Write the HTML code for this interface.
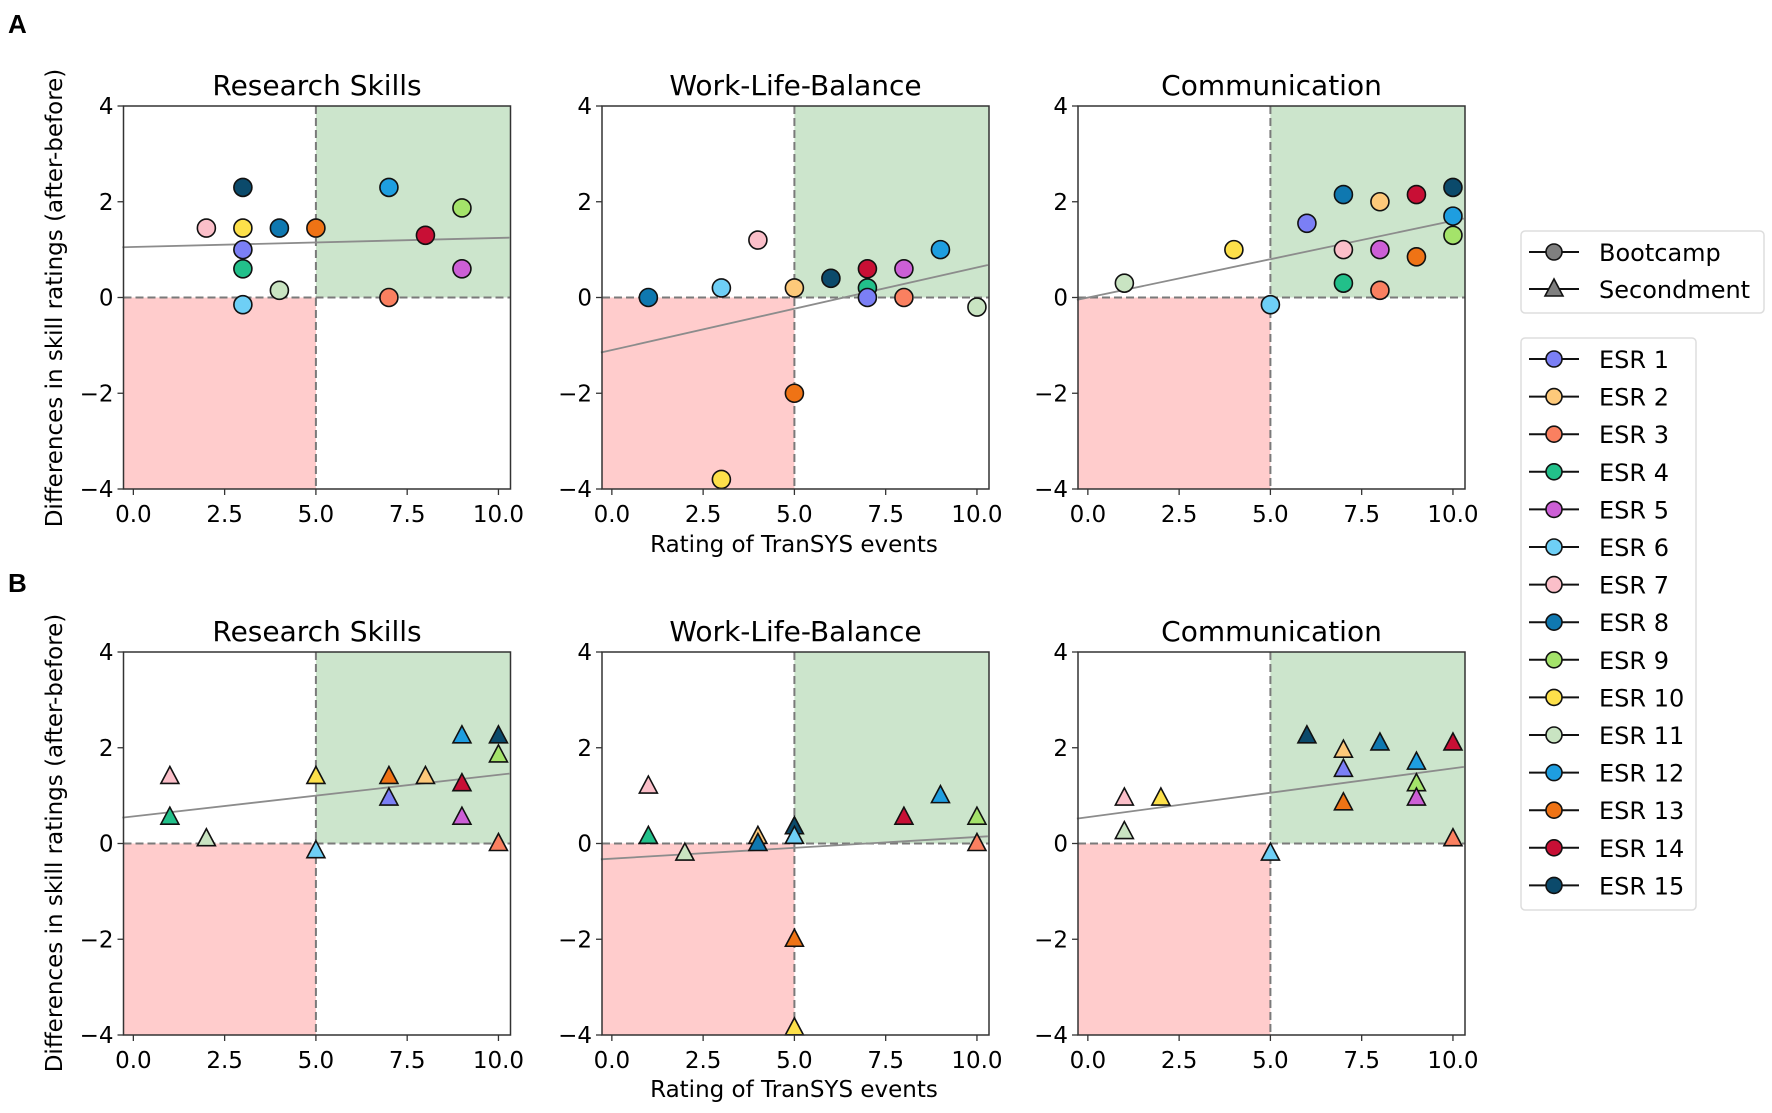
<!DOCTYPE html>
<html><head><meta charset="utf-8">
<style>
html,body{margin:0;padding:0;background:#fff;}
svg{display:block;font-family:"DejaVu Sans","Liberation Sans",sans-serif;}
</style></head>
<body>
<svg id="fig" width="1772" height="1113" viewBox="0 0 1772 1113" xmlns="http://www.w3.org/2000/svg">
<text x="8" y="33" font-size="26" font-weight="bold" font-family="Liberation Sans, sans-serif">A</text>
<text x="8" y="592" font-size="26" font-weight="bold" font-family="Liberation Sans, sans-serif">B</text>
<text transform="translate(62,298) rotate(-90)" text-anchor="middle" font-size="23">Differences in skill ratings (after-before)</text>
<text transform="translate(62,843) rotate(-90)" text-anchor="middle" font-size="23">Differences in skill ratings (after-before)</text>
<text x="794" y="552" text-anchor="middle" font-size="23">Rating of TranSYS events</text>
<text x="794" y="1097" text-anchor="middle" font-size="23">Rating of TranSYS events</text>
</svg>
<script>
const esrColors = ['#7b7ff5','#fdc97a','#fa8060','#22c08a','#cc5fd6','#6ecff6','#fbbfc9','#0f78b0','#a4e36a','#fde04a','#c9e4c2','#1e9ee0','#ef7315','#c80f35','#0b4a6b'];
const panelTitles = ['Research Skills','Work-Life-Balance','Communication'];
const xTicks = [0,2.5,5,7.5,10];
const xTickLabels = ['0.0','2.5','5.0','7.5','10.0'];
const yTicks = [4,2,0,-2,-4];
const yTickLabels = ['4','2','0','\u22122','\u22124'];
// Bootcamp (row A): ESR ids, ratings, differences
const a1Esr = [15,12,9,7,10,8,13,14,1,4,5,11,6,3];
const a1X   = [3,7,9,2,3,4,5,8,3,3,9,4,3,7];
const a1Y   = [2.3,2.3,1.87,1.45,1.45,1.45,1.45,1.3,1.0,0.6,0.6,0.15,-0.15,0.0];
const a2Esr = [8,6,7,2,13,10,15,14,4,1,5,3,12,11];
const a2X   = [1,3,4,5,5,3,6,7,7,7,8,8,9,10];
const a2Y   = [0,0.2,1.2,0.2,-2.0,-3.8,0.4,0.6,0.2,0.0,0.6,0.0,1.0,-0.2];
const a3Esr = [11,10,6,1,8,7,4,2,5,3,14,13,15,12,9];
const a3X   = [1,4,5,6,7,7,7,8,8,8,9,9,10,10,10];
const a3Y   = [0.3,1.0,-0.15,1.55,2.15,1.0,0.3,2.0,1.0,0.15,2.15,0.85,2.3,1.7,1.3];
// Secondment (row B)
const b1Esr = [7,4,11,10,6,13,1,2,12,14,5,15,9,3];
const b1X   = [1,1,2,5,5,7,7,8,9,9,9,10,10,10];
const b1Y   = [1.4,0.55,0.1,1.4,-0.15,1.4,0.95,1.4,2.25,1.25,0.55,2.25,1.85,0.0];
const b2Esr = [7,4,11,2,8,15,6,13,10,14,12,9,3];
const b2X   = [1,1,2,4,4,5,5,5,5,8,9,10,10];
const b2Y   = [1.2,0.15,-0.2,0.15,0.0,0.35,0.15,-2.0,-3.85,0.55,1.0,0.55,0.0];
const b3Esr = [7,11,10,6,15,2,1,13,8,12,9,5,14,3];
const b3X   = [1,1,2,5,6,7,7,7,8,9,9,9,10,10];
const b3Y   = [0.95,0.25,0.95,-0.2,2.25,1.95,1.55,0.85,2.1,1.7,1.25,0.95,2.1,0.1];
// trend lines: [value at x=-0.3, value at x=10.3]
const fitA = [[1.05,1.25],[-1.15,0.68],[-0.05,1.65]];
const fitB = [[0.54,1.46],[-0.33,0.15],[0.52,1.6]];

const NS='http://www.w3.org/2000/svg';
const svg=document.getElementById('fig');
function mk(tag,attrs,parent){const e=document.createElementNS(NS,tag);for(const k in attrs)e.setAttribute(k,attrs[k]);(parent||svg).appendChild(e);return e;}

const panelLefts=[123.5,602,1078];
const PW=387;
const rowTops=[106,652];
const PH=383;
const XMIN=-0.27, XMAX=10.33;

function drawPanel(row,col,esr,xs,ys,fit,tri){
  const L=panelLefts[col], T=rowTops[row];
  const sx=v=>L+(v-XMIN)/(XMAX-XMIN)*PW;
  const sy=v=>T+(4-v)/8*PH;
  const g=mk('g',{});
  
  
  const t=mk('text',{x:L+PW/2,y:T-11,'text-anchor':'middle','font-size':'28'},g);
  t.textContent=panelTitles[col];
  
  
  const gr=mk('rect',{x:sx(5),y:T,width:L+PW-sx(5),height:sy(0)-T,fill:'#cce5cc'},g);
  
  
  const rr=mk('rect',{x:L,y:sy(0),width:sx(5)-L,height:T+PH-sy(0),fill:'#ffcccc'},g);
  
  
  const d1=mk('line',{x1:L,x2:L+PW,y1:sy(0),y2:sy(0),stroke:'#7a7a7a','stroke-width':2,'stroke-dasharray':'8,4'},g);
  
  
  const d2=mk('line',{x1:sx(5),x2:sx(5),y1:T,y2:T+PH,stroke:'#7a7a7a','stroke-width':2,'stroke-dasharray':'8,4'},g);
  
  
  const fl=mk('line',{x1:sx(-0.3),y1:sy(fit[0]),x2:sx(10.3),y2:sy(fit[1]),stroke:'#8c8c8c','stroke-width':1.8},g);
  
  
  for(let i=0;i<xs.length;i++){
    const cx=sx(xs[i]), cy=sy(ys[i]), c=esrColors[esr[i]-1];
    let m;
    if(tri){
      m=mk('polygon',{points:`${cx},${cy-10} ${cx-9},${cy+7} ${cx+9},${cy+7}`,fill:c,stroke:'#111','stroke-width':1.6,'stroke-linejoin':'miter'},g);
    } else {
      m=mk('circle',{cx:cx,cy:cy,r:9,fill:c,stroke:'#111','stroke-width':1.6},g);
    }
    
    
  }
  const fr=mk('rect',{x:L,y:T,width:PW,height:PH,fill:'none',stroke:'#333','stroke-width':1.5},g);
  
  
  for(let i=0;i<xTicks.length;i++){
    const x=sx(xTicks[i]);
    mk('line',{x1:x,x2:x,y1:T+PH,y2:T+PH+6,stroke:'#333','stroke-width':1.3},g);
    const tl=mk('text',{x:x,y:T+PH+33,'text-anchor':'middle','font-size':'23'},g);
    tl.textContent=xTickLabels[i];
    
    
  }
  for(let i=0;i<yTicks.length;i++){
    const y=sy(yTicks[i]);
    mk('line',{x1:L-6,x2:L,y1:y,y2:y,stroke:'#333','stroke-width':1.3},g);
    const tl=mk('text',{x:L-10,y:y+8,'text-anchor':'end','font-size':'23'},g);
    tl.textContent=yTickLabels[i];
    
    
  }
}
drawPanel(0,0,a1Esr,a1X,a1Y,fitA[0],false);
drawPanel(0,1,a2Esr,a2X,a2Y,fitA[1],false);
drawPanel(0,2,a3Esr,a3X,a3Y,fitA[2],false);
drawPanel(1,0,b1Esr,b1X,b1Y,fitB[0],true);
drawPanel(1,1,b2Esr,b2X,b2Y,fitB[1],true);
drawPanel(1,2,b3Esr,b3X,b3Y,fitB[2],true);

// legends
const lg1=mk('g',{});


mk('rect',{x:1521,y:231,width:243,height:82,rx:4,fill:'#fff',stroke:'#ddd','stroke-width':1.5},lg1);
const types=['Bootcamp','Secondment'];
types.forEach((name,i)=>{
  const y=252+i*37;
  const e=mk('g',{},lg1);
  
  
  mk('line',{x1:1529,x2:1579,y1:y,y2:y,stroke:'#111','stroke-width':2},e);
  if(i===0) mk('circle',{cx:1554,cy:y,r:8,fill:'#7f7f7f',stroke:'#111','stroke-width':1.6},e);
  else mk('polygon',{points:`1554,${y-10} 1545,${y+7} 1563,${y+7}`,fill:'#7f7f7f',stroke:'#111','stroke-width':1.6},e);
  const t=mk('text',{x:1599,y:y+9,'font-size':'24'},e);
  t.textContent=name;
});
const lg2=mk('g',{});


mk('rect',{x:1521,y:338,width:175,height:572,rx:4,fill:'#fff',stroke:'#ddd','stroke-width':1.5},lg2);
esrColors.forEach((c,i)=>{
  const y=359+i*37.6;
  const e=mk('g',{},lg2);
  
  
  mk('line',{x1:1529,x2:1579,y1:y,y2:y,stroke:'#111','stroke-width':2},e);
  mk('circle',{cx:1554,cy:y,r:8,fill:c,stroke:'#111','stroke-width':1.6},e);
  const t=mk('text',{x:1599,y:y+9,'font-size':'24'},e);
  t.textContent='ESR '+(i+1);
});
</script>
</body></html>
